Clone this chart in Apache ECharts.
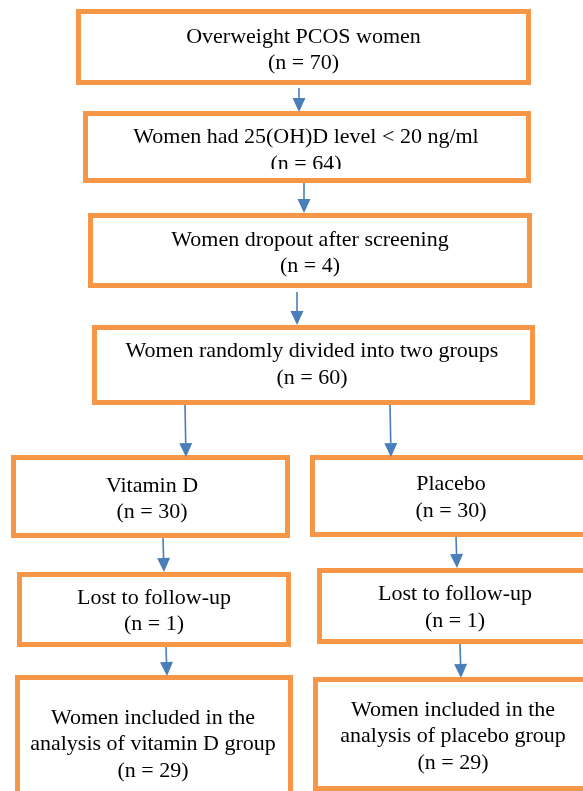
<!DOCTYPE html>
<html>
<head>
<meta charset="utf-8">
<script src="https://cdn.jsdelivr.net/npm/echarts@6/dist/echarts.min.js"></script>
<style>
html,body{margin:0;padding:0;background:#fff;}
#chart{width:583px;height:791px;}
</style>
</head>
<body>
<div id="chart"></div>
<script>
// Flowchart content
const boxLabels = [
  ['Overweight PCOS women', '(n = 70)'],
  ['Women had 25(OH)D level < 20 ng/ml', '(n = 64)'],
  ['Women dropout after screening', '(n = 4)'],
  ['Women randomly divided into two groups', '(n = 60)'],
  ['Vitamin D', '(n = 30)'],
  ['Placebo', '(n = 30)'],
  ['Lost to follow-up', '(n = 1)'],
  ['Lost to follow-up', '(n = 1)'],
  ['Women included in the', 'analysis of vitamin D group', '(n = 29)'],
  ['Women included in the', 'analysis of placebo group', '(n = 29)']
];
// Layout (outer edges of each box: x0, y0, x1, y1) in page units
const boxLayout = [
  [76, 9, 531, 85],
  [83, 111, 531, 183],
  [88, 213, 532, 288],
  [92, 325, 535, 405],
  [11, 455, 290, 538],
  [310, 455, 600, 537],
  [17, 572, 291, 647],
  [317, 568, 600, 644],
  [15, 675, 293, 820],
  [313, 677, 600, 791]
];
// Text block centres
const textLayout = [
  [303.5, 50], [306, 150.5], [310, 253], [312, 364.5],
  [152, 499], [451, 497.5], [154, 611], [455, 607.5],
  [153, 744.5], [453, 736.5]
];
// Text clipped at bottom (y limit) for box 2
const textClipY = [null, 169, null, null, null, null, null, null, null, null];
// Arrow connectors: x0, y0, x1, y1 (tip)
const arrowLayout = [
  [299, 88, 299, 112],
  [304, 183, 304, 213],
  [297, 292, 297, 325],
  [185, 405, 186, 457],
  [390, 405, 391, 457],
  [163, 538, 164, 572],
  [456, 537, 457, 568],
  [166, 647, 167, 676],
  [460, 644, 461, 678]
];

const ORANGE = '#f79646';
const BLUE = '#4a7ebb';
const BW = 5;

const chart = echarts.init(document.getElementById('chart'), null, {renderer: 'canvas'});
chart.setOption({
  animation: false,
  backgroundColor: '#fff',
  grid: {left: 0, right: 0, top: 0, bottom: 0},
  xAxis: {type: 'value', min: 0, max: 583, show: false},
  yAxis: {type: 'value', min: 0, max: 791, inverse: true, show: false},
  series: [
    {
      type: 'custom',
      name: 'boxes',
      clip: true,
      data: boxLabels.map((l, i) => i),
      renderItem: function (params, api) {
        const i = params.dataIndex;
        const b = boxLayout[i];
        const p0 = api.coord([b[0], b[1]]);
        const p1 = api.coord([b[2], b[3]]);
        const t = api.coord(textLayout[i]);
        const children = [
          {
            type: 'rect',
            shape: {x: p0[0] + BW / 2, y: p0[1] + BW / 2, width: p1[0] - p0[0] - BW, height: p1[1] - p0[1] - BW},
            style: {fill: '#fff', stroke: ORANGE, lineWidth: BW}
          },
          {
            type: 'text',
            style: {
              text: boxLabels[i].join('\n'),
              x: t[0], y: t[1],
              align: 'center', verticalAlign: 'middle',
              fontFamily: '"Liberation Serif", "Times New Roman", serif',
              fontSize: 22,
              lineHeight: 26.5,
              fill: '#000'
            }
          }
        ];
        if (textClipY[i] != null) {
          const c = api.coord([b[0], textClipY[i]]);
          children.push({
            type: 'rect',
            shape: {x: p0[0] + BW, y: c[1], width: p1[0] - p0[0] - 2 * BW, height: p1[1] - BW - c[1]},
            style: {fill: '#fff'}
          });
        }
        return {type: 'group', children: children};
      }
    },
    {
      type: 'custom',
      name: 'arrows',
      clip: true,
      data: arrowLayout.map((a, i) => i),
      renderItem: function (params, api) {
        const a = arrowLayout[params.dataIndex];
        const s = api.coord([a[0], a[1]]);
        const e = api.coord([a[2], a[3]]);
        const headL = 14, headW = 13;
        const dx = e[0] - s[0], dy = e[1] - s[1];
        const len = Math.sqrt(dx * dx + dy * dy);
        const ux = dx / len, uy = dy / len;
        const bx = e[0] - ux * headL, by = e[1] - uy * headL;
        const nx = -uy, ny = ux;
        return {
          type: 'group',
          children: [
            {
              type: 'line',
              shape: {x1: s[0], y1: s[1], x2: bx, y2: by},
              style: {stroke: BLUE, lineWidth: 1.6}
            },
            {
              type: 'polygon',
              shape: {points: [[e[0], e[1]], [bx + nx * headW / 2, by + ny * headW / 2], [bx - nx * headW / 2, by - ny * headW / 2]]},
              style: {fill: BLUE}
            }
          ]
        };
      }
    }
  ]
});
</script>
</body>
</html>
